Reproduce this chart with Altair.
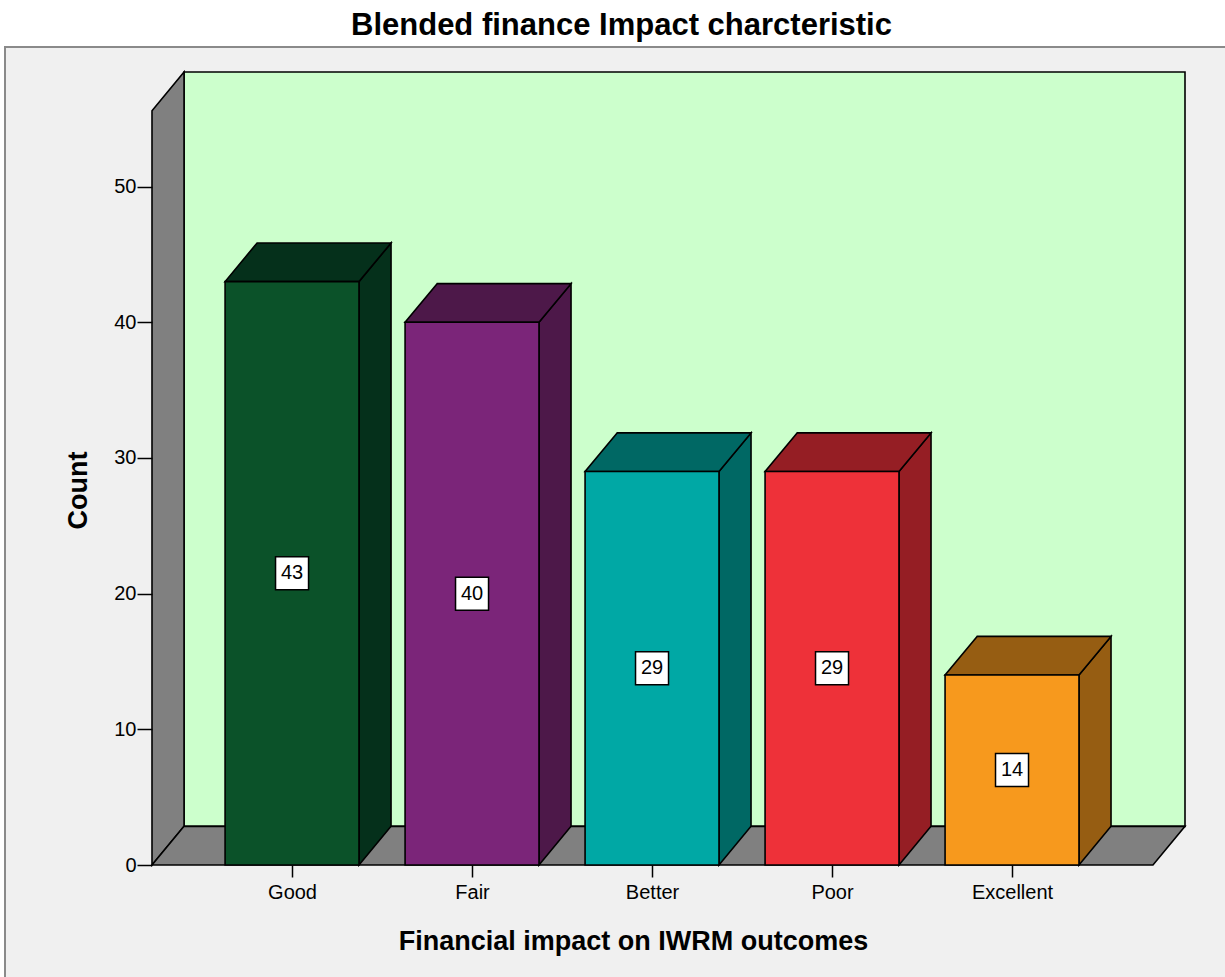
import json

import altair as alt
import pandas as pd

# ---- data -------------------------------------------------------------
categories = ["Good", "Fair", "Better", "Poor", "Excellent"]
counts = [43, 40, 29, 29, 14]
front_colors = ["#0B5229", "#7B2579", "#00A8A5", "#EE3139", "#F7991D"]
shade_colors = ["#05301B", "#4D1849", "#006864", "#951E24", "#965D12"]
y_ticks = [0, 10, 20, 30, 40, 50]

# ---- pseudo-3D box geometry, in data units (one category step = 1) ----
BAR_W = 0.744          # bar width as a share of the category step
DX = 0.178             # depth offset along x
DY = 2.85              # depth offset along y (counts)
WALL_H = 55.6          # height of the front edge of the side wall
X_MIN = -0.778
X_MAX = 4.961
Y_MAX = WALL_H + DY

FONT = "Liberation Sans"

# ---- tables built from the lists above ---------------------------------
front = pd.DataFrame({
    "cat": categories,
    "x": [i - BAR_W / 2 for i in range(len(categories))],
    "x2": [i + BAR_W / 2 for i in range(len(categories))],
    "y": [0.0] * len(categories),
    "y2": counts,
    "fill": front_colors,
})

side_rows, top_rows = [], []
for i, (c, v, col) in enumerate(zip(categories, counts, shade_colors)):
    side_rows.append({"cat": c, "x": i + BAR_W / 2, "y": 0.0, "y2": v, "fill": col})
    side_rows.append({"cat": c, "x": i + BAR_W / 2 + DX, "y": DY, "y2": v + DY, "fill": col})
    top_rows.append({"cat": c, "y": v, "x": i - BAR_W / 2, "x2": i + BAR_W / 2, "fill": col})
    top_rows.append({"cat": c, "y": v + DY, "x": i - BAR_W / 2 + DX, "x2": i + BAR_W / 2 + DX, "fill": col})
side = pd.DataFrame(side_rows)
top = pd.DataFrame(top_rows)

labels = pd.DataFrame({
    "x": list(range(len(categories))),
    "y": [v / 2 for v in counts],
    "label": [str(v) for v in counts],
})

back_wall = pd.DataFrame([{"x": X_MIN + DX, "x2": X_MAX, "y": DY, "y2": Y_MAX}])
left_wall = pd.DataFrame([
    {"x": X_MIN, "y": 0.0, "y2": WALL_H},
    {"x": X_MIN + DX, "y": DY, "y2": Y_MAX},
])
floor = pd.DataFrame([
    {"y": 0.0, "x": X_MIN, "x2": X_MAX - DX},
    {"y": DY, "x": X_MIN + DX, "x2": X_MAX},
])

# ---- scales and axes ---------------------------------------------------
x_scale = alt.Scale(domain=[X_MIN, X_MAX], nice=False, zero=False)
y_scale = alt.Scale(domain=[0, Y_MAX], nice=False, zero=False)

x_axis = alt.Axis(
    values=list(range(len(categories))),
    labelExpr=json.dumps(categories) + "[datum.value]",
    grid=False, domain=False, zindex=1,
    tickSize=12, tickColor="black", tickWidth=1.5,
    labelFont=FONT, labelFontSize=20, labelColor="black", labelPadding=5,
    title="Financial impact on IWRM outcomes",
    titleFont=FONT, titleFontSize=27, titleFontWeight="bold", titleColor="black",
    titleX=481, titleY=84, titleAlign="center", titleBaseline="alphabetic",
)
y_axis = alt.Axis(
    values=y_ticks,
    grid=False, domain=False, zindex=1,
    tickSize=15, tickColor="black", tickWidth=1.5,
    labelFont=FONT, labelFontSize=20, labelColor="black", labelPadding=1,
    title="Count",
    titleFont=FONT, titleFontSize=27, titleFontWeight="bold", titleColor="black",
    titleAngle=270, titleX=-74, titleY=418, titleAlign="center", titleBaseline="middle",
)

X = lambda f="x": alt.X(f"{f}:Q", scale=x_scale, axis=x_axis)
Y = lambda f="y": alt.Y(f"{f}:Q", scale=y_scale, axis=y_axis)

edge = dict(stroke="black", strokeWidth=1.6, strokeJoin="miter")

# ---- layers ------------------------------------------------------------
panel = alt.Chart(alt.Data(values=[{}])).mark_rect(
    fill="#F0F0F0", stroke="#8A8A8A", strokeWidth=2
).encode(
    x=alt.value(-147), x2=alt.value(1100), y=alt.value(-25), y2=alt.value(950)
)

back = alt.Chart(back_wall).mark_rect(fill="#CCFFCC", **edge).encode(
    x=X(), x2="x2:Q", y=Y(), y2="y2:Q"
)
left = alt.Chart(left_wall).mark_area(fill="#808080", **edge).encode(
    x=X(), y=Y(), y2="y2:Q"
)
ground = alt.Chart(floor).mark_area(orient="horizontal", fill="#808080", **edge).encode(
    y=Y(), x=X(), x2="x2:Q"
)

bar_side = alt.Chart(side).mark_area(**edge).encode(
    x=X(), y=Y(), y2="y2:Q",
    detail="cat:N", fill=alt.Fill("fill:N", scale=None),
)
bar_top = alt.Chart(top).mark_area(orient="horizontal", **edge).encode(
    y=Y(), x=X(), x2="x2:Q",
    detail="cat:N", fill=alt.Fill("fill:N", scale=None),
)
bar_front = alt.Chart(front).mark_rect(**edge).encode(
    x=X(), x2="x2:Q", y=Y(), y2="y2:Q",
    fill=alt.Fill("fill:N", scale=None),
)

label_box = alt.Chart(labels).mark_point(
    shape="square", size=33 * 33, filled=True, fill="white", opacity=1,
    stroke="black", strokeWidth=1.5,
).encode(x=X(), y=Y())
label_text = alt.Chart(labels).mark_text(
    font=FONT, fontSize=20, color="black", baseline="middle", align="center"
).encode(x=X(), y=Y(), text="label:N")

chart = alt.layer(
    panel, back, left, ground, bar_side, bar_top, bar_front, label_box, label_text
).properties(
    width=1033,
    height=793,
    autosize=alt.AutoSizeParams(type="none"),
    padding={"left": 152, "top": 72, "right": 40, "bottom": 112},
    background="white",
    title=alt.TitleParams(
        "Blended finance Impact charcteristic",
        font=FONT, fontSize=31, fontWeight="bold", color="black",
        anchor="middle", dx=-47,
    ),
).configure_view(stroke=None)

chart.save("out.html", embed_options={"renderer": "svg", "actions": False})
